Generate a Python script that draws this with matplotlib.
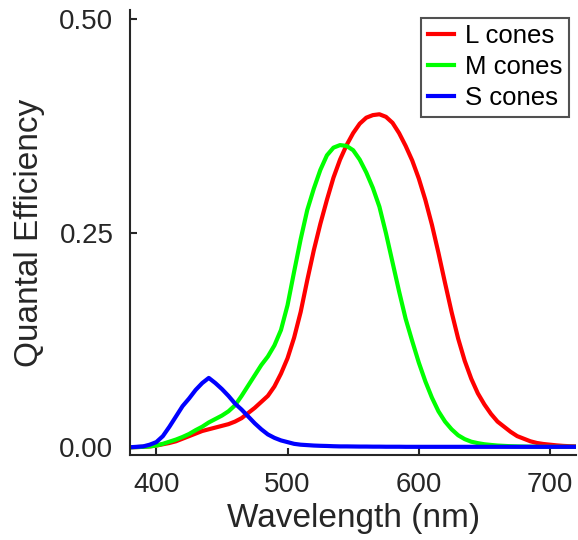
import matplotlib
matplotlib.use("Agg")
import matplotlib.pyplot as plt
from matplotlib.ticker import FormatStrFormatter

plt.rcParams['font.family'] = ['Liberation Sans', 'DejaVu Sans']

# wavelength grid (nm), 5 nm steps
wavelength = list(range(380, 725, 5))

# L cones (red)
l_cones = [0.0, 0.0002, 0.0005, 0.001, 0.002, 0.0035, 0.005, 0.007, 0.010, 0.013,
           0.016, 0.019, 0.021, 0.023, 0.025, 0.027, 0.030, 0.034, 0.040, 0.046,
           0.053, 0.060, 0.071, 0.086, 0.104, 0.128, 0.158, 0.195, 0.230, 0.261,
           0.289, 0.315, 0.336, 0.353, 0.367, 0.378, 0.385, 0.388, 0.389, 0.386,
           0.379, 0.367, 0.352, 0.335, 0.314, 0.289, 0.260, 0.227, 0.192, 0.158,
           0.127, 0.101, 0.080, 0.063, 0.050, 0.039, 0.030, 0.024, 0.018, 0.013,
           0.010, 0.007, 0.005, 0.0038, 0.003, 0.0022, 0.0016, 0.0012, 0.001]

# M cones (green)
m_cones = [0.0, 0.0002, 0.0005, 0.001, 0.002, 0.004, 0.0065, 0.009, 0.012, 0.0155,
           0.020, 0.024, 0.029, 0.033, 0.037, 0.042, 0.049, 0.060, 0.072, 0.084,
           0.096, 0.106, 0.119, 0.137, 0.166, 0.205, 0.243, 0.277, 0.302, 0.324,
           0.341, 0.350, 0.353, 0.352, 0.347, 0.336, 0.321, 0.303, 0.281, 0.250,
           0.216, 0.182, 0.150, 0.124, 0.099, 0.077, 0.058, 0.042, 0.030, 0.021,
           0.014, 0.0095, 0.0065, 0.0048, 0.0035, 0.0027, 0.002, 0.0016, 0.0012, 0.001,
           0.0008, 0.0007, 0.0006, 0.0005, 0.0005, 0.0005, 0.0005, 0.0005, 0.0005]

# S cones (blue)
s_cones = [0.0, 0.0005, 0.001, 0.003, 0.006, 0.013, 0.024, 0.036, 0.048, 0.057,
           0.067, 0.075, 0.081, 0.075, 0.068, 0.060, 0.051, 0.044, 0.036, 0.028,
           0.021, 0.015, 0.011, 0.008, 0.006, 0.004, 0.003, 0.0025, 0.002, 0.0017,
           0.0015, 0.0012, 0.001, 0.001, 0.0009, 0.0008, 0.0008, 0.0007, 0.0007, 0.0006,
           0.0006, 0.0006, 0.0005, 0.0005, 0.0005, 0.0005, 0.0005, 0.0005, 0.0005, 0.0005,
           0.0005, 0.0005, 0.0005, 0.0005, 0.0005, 0.0005, 0.0005, 0.0005, 0.0005, 0.0005,
           0.0005, 0.0005, 0.0005, 0.0005, 0.0005, 0.0005, 0.0005, 0.0005, 0.0005]

xticks = [400, 500, 600, 700]
yticks = [0.0, 0.25, 0.5]

fig = plt.figure(figsize=(5.78, 5.40), dpi=100)
ax = fig.add_axes([0.225, 0.157, 0.772, 0.824])

ax.plot(wavelength, l_cones, color=(1, 0, 0), lw=3, solid_joinstyle='round', label='L cones')
ax.plot(wavelength, m_cones, color=(0, 1, 0), lw=3, solid_joinstyle='round', label='M cones')
ax.plot(wavelength, s_cones, color=(0, 0, 1), lw=3, solid_joinstyle='round', label='S cones')

ax.set_xlim(380, 720)
ax.set_ylim(-0.0093, 0.5105)
ax.set_xticks(xticks)
ax.set_yticks(yticks)
ax.yaxis.set_major_formatter(FormatStrFormatter('%.2f'))

dark = '#262626'
for side in ['top', 'right']:
    ax.spines[side].set_visible(False)
for side in ['left', 'bottom']:
    ax.spines[side].set_color(dark)
    ax.spines[side].set_linewidth(1.5)
ax.tick_params(direction='in', length=5, width=1.5, colors=dark,
               labelsize=20, pad=12)

ax.set_xlabel('Wavelength (nm)', fontsize=24, color=dark, labelpad=4)
ax.set_ylabel('Quantal Efficiency', fontsize=24, color=dark, labelpad=10)

leg = ax.legend(loc='upper right', fontsize=18.5, frameon=True, fancybox=False,
                handlelength=1.05, handletextpad=0.4, labelspacing=0.27,
                borderpad=0.25, borderaxespad=0.3)
leg.get_frame().set_edgecolor(dark)
leg.get_frame().set_linewidth(1.5)

plt.savefig('out.png', dpi=100)
